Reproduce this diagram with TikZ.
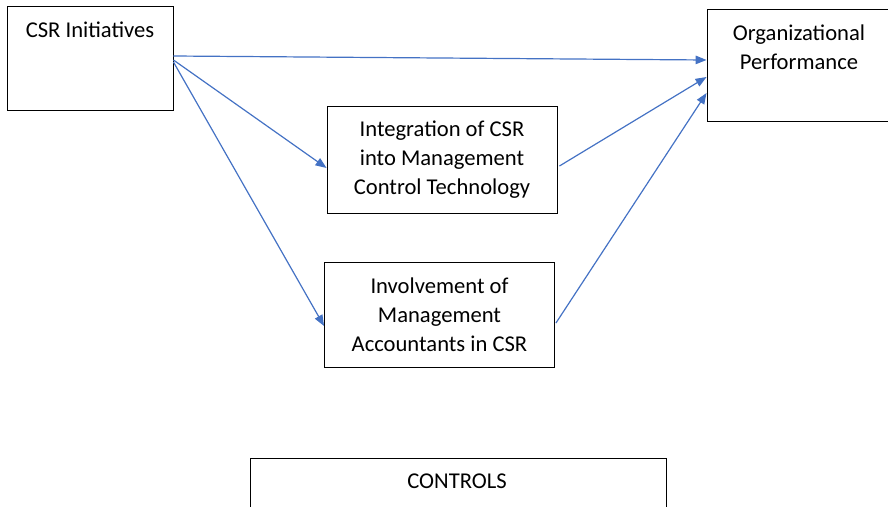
\documentclass[tikz,border=0pt]{standalone}
\usepackage{fontspec}
\setmainfont{Carlito}
\usetikzlibrary{arrows.meta}
\begin{document}
\begin{tikzpicture}[x=1pt,y=-1pt]
  \definecolor{kBlue}{HTML}{4472C4}
  \tikzset{
    box/.style={draw=black,line width=0.9pt,inner sep=0pt},
    lbl/.style={font=\fontsize{22.6}{29}\selectfont,align=center,inner sep=0pt},
    link/.style={draw=kBlue,line width=1.2pt,-{Triangle[length=11pt,width=8.5pt]}}
  }
  \useasboundingbox (0,0) rectangle (888,506);
  \clip (0,0) rectangle (888,506);

  % boxes
  \node[box,minimum width=166pt,minimum height=104pt] (csr) at (90,58) {};
  \node[lbl,anchor=base] (csrtext) at (90,37) {CSR Initiatives};

  \node[box,minimum width=182pt,minimum height=112pt] (org) at (798,65) {};
  \node[lbl,anchor=north] (orgtext) at (799,24.5) {Organizational\\Performance};

  \node[box,lbl,minimum width=230pt,minimum height=107pt] (integ) at (442,159.5)
    {Integration of CSR\\into Management\\Control Technology};
  \node[box,lbl,minimum width=230pt,minimum height=105pt] (invol) at (439.5,314.5)
    {Involvement of\\Management\\Accountants in CSR};

  \node[box,minimum width=416pt,minimum height=80pt] (ctrl) at (458,498) {};
  \node[lbl,anchor=base] (ctrltext) at (457,488) {CONTROLS};

  % links
  \draw[link] ([yshift=2pt]csr.east) -- ([yshift=5pt]org.west);
  \draw[link] ([yshift=-2pt]csr.east) -- ([yshift=-8.5pt]integ.west);
  \draw[link] ([yshift=-4pt]csr.east) -- ([yshift=-11.5pt]invol.west);
  \draw[link] ([xshift=2pt,yshift=-6.5pt]integ.east) -- ([yshift=-12pt]org.west);
  \draw[link] ([xshift=1pt,yshift=-8.5pt]invol.east) -- ([yshift=-28pt]org.west);
\end{tikzpicture}
\end{document}
